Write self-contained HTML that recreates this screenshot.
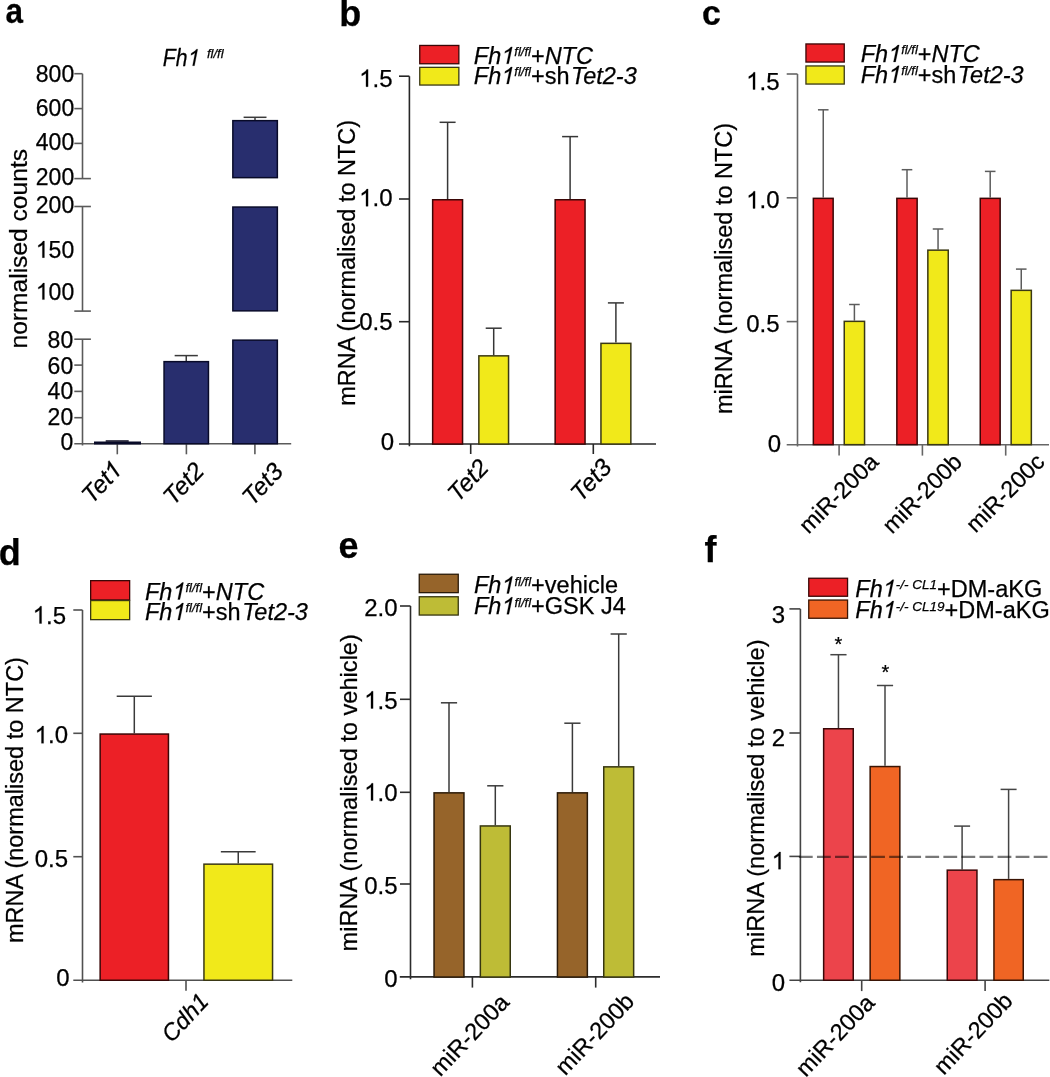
<!DOCTYPE html>
<html><head><meta charset="utf-8"><style>
html,body{margin:0;padding:0;background:#fff;}
svg{display:block;will-change:transform;}
text{font-family:"Liberation Sans", sans-serif;fill:#000;stroke:#000;stroke-width:0.25px;}
</style></head><body>
<svg width="1050" height="1077" viewBox="0 0 1050 1077">
<rect width="1050" height="1077" fill="#fff"/>
<text x="0" y="0" font-size="36" text-anchor="start" font-weight="bold" transform="translate(5.6,22.6) scale(0.875,1)" >a</text>
<text x="0" y="0" font-size="23" text-anchor="start" font-style="italic" transform="translate(162.8,65.7) scale(0.92,1)" >Fh</text>
<path d="M763 0H583V1147Q518 1085 412.5 1023T223 930V1104Q373 1175 485.5 1276T645 1472H763V0Z" fill="#000" stroke="#000" stroke-width="22.26" transform="translate(162.8,65.7) scale(0.92,1) translate(25.84,0) scale(0.01123,-0.01123) skewX(12)"/>
<text x="207" y="57.9" font-size="13" text-anchor="start" font-style="italic" >fl/fl</text>
<line x1="82.5" y1="73.7" x2="82.5" y2="178.6" stroke="#5a5a5a" stroke-width="1.6" />
<line x1="82.5" y1="206.5" x2="82.5" y2="311.1" stroke="#5a5a5a" stroke-width="1.6" />
<line x1="82.5" y1="339.2" x2="82.5" y2="445.5" stroke="#5a5a5a" stroke-width="1.6" />
<line x1="74.3" y1="73.7" x2="82.5" y2="73.7" stroke="#5a5a5a" stroke-width="1.6" />
<line x1="74.3" y1="108.6" x2="82.5" y2="108.6" stroke="#5a5a5a" stroke-width="1.6" />
<line x1="74.3" y1="143.4" x2="82.5" y2="143.4" stroke="#5a5a5a" stroke-width="1.6" />
<line x1="74.3" y1="178.6" x2="90.9" y2="178.6" stroke="#5a5a5a" stroke-width="1.6" />
<line x1="74.3" y1="206.5" x2="90.9" y2="206.5" stroke="#5a5a5a" stroke-width="1.6" />
<line x1="74.3" y1="311.1" x2="90.9" y2="311.1" stroke="#5a5a5a" stroke-width="1.6" />
<line x1="74.3" y1="339.2" x2="90.9" y2="339.2" stroke="#5a5a5a" stroke-width="1.6" />
<line x1="74.3" y1="365.1" x2="82.5" y2="365.1" stroke="#5a5a5a" stroke-width="1.6" />
<line x1="74.3" y1="391.4" x2="82.5" y2="391.4" stroke="#5a5a5a" stroke-width="1.6" />
<line x1="74.3" y1="417.7" x2="82.5" y2="417.7" stroke="#5a5a5a" stroke-width="1.6" />
<line x1="74.3" y1="443.8" x2="291.2" y2="443.8" stroke="#5a5a5a" stroke-width="1.6" />
<line x1="117.3" y1="443.8" x2="117.3" y2="454.3" stroke="#5a5a5a" stroke-width="1.6" />
<line x1="186.4" y1="443.8" x2="186.4" y2="454.3" stroke="#5a5a5a" stroke-width="1.6" />
<line x1="254.9" y1="443.8" x2="254.9" y2="454.3" stroke="#5a5a5a" stroke-width="1.6" />
<text x="74.2" y="81.95" font-size="23" text-anchor="end" >800</text>
<text x="74.2" y="116.05" font-size="23" text-anchor="end" >600</text>
<text x="74.2" y="150.35" font-size="23" text-anchor="end" >400</text>
<text x="74.2" y="184.6" font-size="23" text-anchor="end" >200</text>
<text x="74.2" y="213.05" font-size="23" text-anchor="end" >200</text>
<text x="74.2" y="257.65" font-size="23" text-anchor="end" >50</text>
<path d="M763 0H583V1147Q518 1085 412.5 1023T223 930V1104Q373 1175 485.5 1276T645 1472H763V0Z" fill="#000" stroke="#000" stroke-width="22.26" transform="translate(35.83,257.65) scale(0.01123,-0.01123)"/>
<text x="74.2" y="299.55" font-size="23" text-anchor="end" >00</text>
<path d="M763 0H583V1147Q518 1085 412.5 1023T223 930V1104Q373 1175 485.5 1276T645 1472H763V0Z" fill="#000" stroke="#000" stroke-width="22.26" transform="translate(35.83,299.55) scale(0.01123,-0.01123)"/>
<text x="73.2" y="347.85" font-size="23" text-anchor="end" >80</text>
<text x="73.2" y="373.7" font-size="23" text-anchor="end" >60</text>
<text x="73.2" y="399.05" font-size="23" text-anchor="end" >40</text>
<text x="73.2" y="424.5" font-size="23" text-anchor="end" >20</text>
<text x="73.2" y="450.0" font-size="23" text-anchor="end" >0</text>
<text x="0" y="0" font-size="24.6" text-anchor="middle" transform="translate(27.0,248.75) rotate(-90)" >normalised counts</text>
<rect x="94.75" y="442.25" width="45.50" height="1.50" fill="#282e6e" stroke="#080a28" stroke-width="1.5"/>
<line x1="105.7" y1="441.0" x2="128.7" y2="441.0" stroke="#0a0a20" stroke-width="1.5" />
<line x1="186.25" y1="355.6" x2="186.25" y2="360.9" stroke="#3a3a3a" stroke-width="1.5" />
<line x1="174.65" y1="355.6" x2="197.85" y2="355.6" stroke="#3a3a3a" stroke-width="1.5" />
<rect x="164.05" y="361.65" width="44.40" height="82.10" fill="#282e6e" stroke="#080a28" stroke-width="1.5"/>
<line x1="255" y1="117.3" x2="255" y2="120" stroke="#3a3a3a" stroke-width="1.5" />
<line x1="243.6" y1="117.3" x2="266.5" y2="117.3" stroke="#3a3a3a" stroke-width="1.5" />
<rect x="232.85" y="120.65" width="44.50" height="57.00" fill="#282e6e" stroke="#080a28" stroke-width="1.5"/>
<rect x="232.85" y="207.05" width="44.50" height="103.80" fill="#282e6e" stroke="#080a28" stroke-width="1.5"/>
<rect x="232.85" y="340.15" width="44.50" height="103.60" fill="#282e6e" stroke="#080a28" stroke-width="1.5"/>
<text x="-11.63" y="0" font-size="24.5" text-anchor="end" font-style="italic" transform="translate(122.5,472.0) rotate(-47)" >Tet</text>
<path d="M763 0H583V1147Q518 1085 412.5 1023T223 930V1104Q373 1175 485.5 1276T645 1472H763V0Z" fill="#000" stroke="#000" stroke-width="20.90" transform="translate(122.5,472.0) rotate(-47) translate(-13.63,0) scale(0.01196,-0.01196) skewX(12)"/>
<text x="0" y="0" font-size="24.5" text-anchor="end" font-style="italic" transform="translate(205.5,472.0) rotate(-47)" >Tet2</text>
<text x="0" y="0" font-size="24.5" text-anchor="end" font-style="italic" transform="translate(284.5,472.5) rotate(-47)" >Tet3</text>
<text x="339.2" y="25.5" font-size="36" text-anchor="start" font-weight="bold" >b</text>
<line x1="409.4" y1="76.2" x2="409.4" y2="446.3" stroke="#262626" stroke-width="1.6" />
<line x1="399" y1="76.2" x2="409.4" y2="76.2" stroke="#262626" stroke-width="1.6" />
<line x1="399" y1="199.0" x2="409.4" y2="199.0" stroke="#262626" stroke-width="1.6" />
<line x1="399" y1="321.7" x2="409.4" y2="321.7" stroke="#262626" stroke-width="1.6" />
<line x1="399" y1="444" x2="656" y2="444" stroke="#262626" stroke-width="1.6" />
<line x1="470.7" y1="444" x2="470.7" y2="454" stroke="#262626" stroke-width="1.6" />
<line x1="593.3" y1="444" x2="593.3" y2="454" stroke="#262626" stroke-width="1.6" />
<text x="392.5" y="86.7" font-size="24" text-anchor="end" >.5</text>
<path d="M763 0H583V1147Q518 1085 412.5 1023T223 930V1104Q373 1175 485.5 1276T645 1472H763V0Z" fill="#000" stroke="#000" stroke-width="21.33" transform="translate(359.14,86.7) scale(0.01172,-0.01172)"/>
<text x="392.5" y="206.3" font-size="24" text-anchor="end" >.0</text>
<path d="M763 0H583V1147Q518 1085 412.5 1023T223 930V1104Q373 1175 485.5 1276T645 1472H763V0Z" fill="#000" stroke="#000" stroke-width="21.33" transform="translate(359.14,206.3) scale(0.01172,-0.01172)"/>
<text x="392.5" y="329.5" font-size="24" text-anchor="end" >0.5</text>
<text x="394" y="450" font-size="24" text-anchor="end" >0</text>
<text x="0" y="0" font-size="23.5" text-anchor="middle" transform="translate(354.7,262.85) rotate(-90)" >mRNA (normalised to NTC)</text>
<line x1="447.6" y1="122.3" x2="447.6" y2="199" stroke="#363636" stroke-width="1.5" />
<line x1="439.6" y1="122.3" x2="455.6" y2="122.3" stroke="#363636" stroke-width="1.5" />
<rect x="432.65" y="199.75" width="29.90" height="244.30" fill="#ec2026" stroke="#3a0606" stroke-width="1.5"/>
<line x1="493.70000000000005" y1="328.2" x2="493.70000000000005" y2="355.1" stroke="#363636" stroke-width="1.5" />
<line x1="485.70000000000005" y1="328.2" x2="501.70000000000005" y2="328.2" stroke="#363636" stroke-width="1.5" />
<rect x="478.85" y="355.85" width="29.70" height="88.20" fill="#f1e91a" stroke="#3a3814" stroke-width="1.5"/>
<line x1="570.0999999999999" y1="136.6" x2="570.0999999999999" y2="199" stroke="#363636" stroke-width="1.5" />
<line x1="562.0999999999999" y1="136.6" x2="578.0999999999999" y2="136.6" stroke="#363636" stroke-width="1.5" />
<rect x="555.15" y="199.75" width="29.90" height="244.30" fill="#ec2026" stroke="#3a0606" stroke-width="1.5"/>
<line x1="615.9000000000001" y1="302.9" x2="615.9000000000001" y2="342.6" stroke="#363636" stroke-width="1.5" />
<line x1="607.9000000000001" y1="302.9" x2="623.9000000000001" y2="302.9" stroke="#363636" stroke-width="1.5" />
<rect x="600.95" y="343.35" width="29.90" height="100.70" fill="#f1e91a" stroke="#3a3814" stroke-width="1.5"/>
<rect x="419.75" y="45.45" width="39.10" height="18.30" fill="#ec2026" stroke="#3a0606" stroke-width="1.3"/>
<rect x="419.75" y="67.35" width="39.10" height="17.70" fill="#f1e91a" stroke="#3a3814" stroke-width="1.3"/>
<text x="473.8" y="63.8" font-size="23.5" text-anchor="start" font-style="italic" >Fh</text>
<path d="M763 0H583V1147Q518 1085 412.5 1023T223 930V1104Q373 1175 485.5 1276T645 1472H763V0Z" fill="#000" stroke="#000" stroke-width="21.79" transform="translate(499.92,63.8) scale(0.01147,-0.01147) skewX(12)"/>
<text x="514.29" y="63.8" font-size="23.5" text-anchor="start" ><tspan font-style="italic" font-size="13" dy="-7.7">fl/fl</tspan><tspan dy="7.7">+<tspan font-style="italic">NTC</tspan></tspan></text>
<text x="473.8" y="83.9" font-size="23.5" text-anchor="start" font-style="italic" >Fh</text>
<path d="M763 0H583V1147Q518 1085 412.5 1023T223 930V1104Q373 1175 485.5 1276T645 1472H763V0Z" fill="#000" stroke="#000" stroke-width="21.79" transform="translate(499.92,83.9) scale(0.01147,-0.01147) skewX(12)"/>
<text x="514.29" y="83.9" font-size="23.5" text-anchor="start" ><tspan font-style="italic" font-size="13" dy="-7.7">fl/fl</tspan><tspan dy="7.7">+sh<tspan font-style="italic" dx="1.5">Tet2-3</tspan></tspan></text>
<text x="0" y="0" font-size="24.5" text-anchor="end" font-style="italic" transform="translate(490,468.8) rotate(-47)" >Tet2</text>
<text x="0" y="0" font-size="24.5" text-anchor="end" font-style="italic" transform="translate(613,468.5) rotate(-47)" >Tet3</text>
<text x="0" y="0" font-size="36" text-anchor="start" font-weight="bold" transform="translate(702,24.8) scale(0.94,1)" >c</text>
<line x1="797.5" y1="74.0" x2="797.5" y2="446.5" stroke="#666666" stroke-width="1.6" />
<line x1="786.7" y1="74.0" x2="797.5" y2="74.0" stroke="#666666" stroke-width="1.6" />
<line x1="786.7" y1="197.8" x2="797.5" y2="197.8" stroke="#666666" stroke-width="1.6" />
<line x1="786.7" y1="321.6" x2="797.5" y2="321.6" stroke="#666666" stroke-width="1.6" />
<line x1="786.7" y1="444.8" x2="1049" y2="444.8" stroke="#666666" stroke-width="1.6" />
<line x1="839.1" y1="444.8" x2="839.1" y2="455.6" stroke="#666666" stroke-width="1.6" />
<line x1="922.4" y1="444.8" x2="922.4" y2="455.6" stroke="#666666" stroke-width="1.6" />
<line x1="1005.7" y1="444.8" x2="1005.7" y2="455.6" stroke="#666666" stroke-width="1.6" />
<text x="779.5" y="89.5" font-size="24" text-anchor="end" >.5</text>
<path d="M763 0H583V1147Q518 1085 412.5 1023T223 930V1104Q373 1175 485.5 1276T645 1472H763V0Z" fill="#000" stroke="#000" stroke-width="21.33" transform="translate(746.14,89.5) scale(0.01172,-0.01172)"/>
<text x="779.5" y="208.4" font-size="24" text-anchor="end" >.0</text>
<path d="M763 0H583V1147Q518 1085 412.5 1023T223 930V1104Q373 1175 485.5 1276T645 1472H763V0Z" fill="#000" stroke="#000" stroke-width="21.33" transform="translate(746.14,208.4) scale(0.01172,-0.01172)"/>
<text x="779.5" y="332" font-size="24" text-anchor="end" >0.5</text>
<text x="781" y="452" font-size="24" text-anchor="end" >0</text>
<text x="0" y="0" font-size="23.5" text-anchor="middle" transform="translate(731.9,268.45) rotate(-90)" >miRNA (normalised to NTC)</text>
<line x1="823.25" y1="109.8" x2="823.25" y2="197.6" stroke="#5c5c5c" stroke-width="1.5" />
<line x1="817.95" y1="109.8" x2="828.55" y2="109.8" stroke="#5c5c5c" stroke-width="1.5" />
<rect x="813.35" y="198.35" width="19.80" height="246.30" fill="#ec2026" stroke="#3a0606" stroke-width="1.5"/>
<line x1="854.4" y1="304.5" x2="854.4" y2="320.6" stroke="#5c5c5c" stroke-width="1.5" />
<line x1="849.1" y1="304.5" x2="859.6999999999999" y2="304.5" stroke="#5c5c5c" stroke-width="1.5" />
<rect x="844.25" y="321.35" width="20.30" height="123.30" fill="#f1e91a" stroke="#3a3814" stroke-width="1.5"/>
<line x1="907.0" y1="169.7" x2="907.0" y2="197.6" stroke="#5c5c5c" stroke-width="1.5" />
<line x1="901.7" y1="169.7" x2="912.3" y2="169.7" stroke="#5c5c5c" stroke-width="1.5" />
<rect x="896.85" y="198.35" width="20.30" height="246.30" fill="#ec2026" stroke="#3a0606" stroke-width="1.5"/>
<line x1="938.05" y1="229" x2="938.05" y2="249.4" stroke="#5c5c5c" stroke-width="1.5" />
<line x1="932.75" y1="229" x2="943.3499999999999" y2="229" stroke="#5c5c5c" stroke-width="1.5" />
<rect x="927.85" y="250.15" width="20.40" height="194.50" fill="#f1e91a" stroke="#3a3814" stroke-width="1.5"/>
<line x1="990.2" y1="171.4" x2="990.2" y2="197.6" stroke="#5c5c5c" stroke-width="1.5" />
<line x1="984.9000000000001" y1="171.4" x2="995.5" y2="171.4" stroke="#5c5c5c" stroke-width="1.5" />
<rect x="980.25" y="198.35" width="19.90" height="246.30" fill="#ec2026" stroke="#3a0606" stroke-width="1.5"/>
<line x1="1021.25" y1="269.1" x2="1021.25" y2="289.6" stroke="#5c5c5c" stroke-width="1.5" />
<line x1="1015.95" y1="269.1" x2="1026.55" y2="269.1" stroke="#5c5c5c" stroke-width="1.5" />
<rect x="1011.15" y="290.35" width="20.20" height="154.30" fill="#f1e91a" stroke="#3a3814" stroke-width="1.5"/>
<rect x="805.95" y="43.95" width="38.30" height="18.10" fill="#ec2026" stroke="#3a0606" stroke-width="1.3"/>
<rect x="805.95" y="65.95" width="38.30" height="18.10" fill="#f1e91a" stroke="#3a3814" stroke-width="1.3"/>
<text x="860.7" y="61.9" font-size="23.5" text-anchor="start" font-style="italic" >Fh</text>
<path d="M763 0H583V1147Q518 1085 412.5 1023T223 930V1104Q373 1175 485.5 1276T645 1472H763V0Z" fill="#000" stroke="#000" stroke-width="21.79" transform="translate(886.82,61.9) scale(0.01147,-0.01147) skewX(12)"/>
<text x="901.19" y="61.9" font-size="23.5" text-anchor="start" ><tspan font-style="italic" font-size="13" dy="-7.7">fl/fl</tspan><tspan dy="7.7">+<tspan font-style="italic">NTC</tspan></tspan></text>
<text x="860.7" y="82.7" font-size="23.5" text-anchor="start" font-style="italic" >Fh</text>
<path d="M763 0H583V1147Q518 1085 412.5 1023T223 930V1104Q373 1175 485.5 1276T645 1472H763V0Z" fill="#000" stroke="#000" stroke-width="21.79" transform="translate(886.82,82.7) scale(0.01147,-0.01147) skewX(12)"/>
<text x="901.19" y="82.7" font-size="23.5" text-anchor="start" ><tspan font-style="italic" font-size="13" dy="-7.7">fl/fl</tspan><tspan dy="7.7">+sh<tspan font-style="italic" dx="1.5">Tet2-3</tspan></tspan></text>
<text x="0" y="0" font-size="23.3" text-anchor="end" transform="translate(880,463.3) rotate(-45)" >miR-200a</text>
<text x="0" y="0" font-size="23.3" text-anchor="end" transform="translate(963.5,463.3) rotate(-45)" >miR-200b</text>
<text x="0" y="0" font-size="23.3" text-anchor="end" transform="translate(1046,463.3) rotate(-45)" >miR-200c</text>
<text x="-1.2" y="565" font-size="36" text-anchor="start" font-weight="bold" >d</text>
<line x1="82.5" y1="610" x2="82.5" y2="982.6" stroke="#505050" stroke-width="1.6" />
<line x1="73.3" y1="610" x2="82.5" y2="610" stroke="#505050" stroke-width="1.6" />
<line x1="73.3" y1="733.3" x2="82.5" y2="733.3" stroke="#505050" stroke-width="1.6" />
<line x1="73.3" y1="856.7" x2="82.5" y2="856.7" stroke="#505050" stroke-width="1.6" />
<line x1="73.3" y1="980.3" x2="292.3" y2="980.3" stroke="#505050" stroke-width="1.6" />
<line x1="186" y1="980.3" x2="186" y2="990.7" stroke="#505050" stroke-width="1.6" />
<text x="66" y="623.5" font-size="24" text-anchor="end" >.5</text>
<path d="M763 0H583V1147Q518 1085 412.5 1023T223 930V1104Q373 1175 485.5 1276T645 1472H763V0Z" fill="#000" stroke="#000" stroke-width="21.33" transform="translate(32.64,623.5) scale(0.01172,-0.01172)"/>
<text x="68" y="743.3" font-size="24" text-anchor="end" >.0</text>
<path d="M763 0H583V1147Q518 1085 412.5 1023T223 930V1104Q373 1175 485.5 1276T645 1472H763V0Z" fill="#000" stroke="#000" stroke-width="21.33" transform="translate(34.64,743.3) scale(0.01172,-0.01172)"/>
<text x="68" y="866.7" font-size="24" text-anchor="end" >0.5</text>
<text x="69.5" y="985.5" font-size="24" text-anchor="end" >0</text>
<text x="0" y="0" font-size="23.5" text-anchor="middle" transform="translate(22.9,800.05) rotate(-90)" >mRNA (normalised to NTC)</text>
<line x1="134.3" y1="696.2" x2="134.3" y2="733.3" stroke="#3a3a3a" stroke-width="1.5" />
<line x1="116.70000000000002" y1="696.2" x2="151.9" y2="696.2" stroke="#3a3a3a" stroke-width="1.5" />
<rect x="100.15" y="734.05" width="68.30" height="246.20" fill="#ec2026" stroke="#3a0606" stroke-width="1.5"/>
<line x1="238.25" y1="851.8" x2="238.25" y2="863.4" stroke="#3a3a3a" stroke-width="1.5" />
<line x1="220.85" y1="851.8" x2="255.65" y2="851.8" stroke="#3a3a3a" stroke-width="1.5" />
<rect x="203.95" y="864.15" width="68.60" height="116.10" fill="#f1e91a" stroke="#3a3814" stroke-width="1.5"/>
<rect x="90.65" y="580.65" width="39.00" height="19.30" fill="#ec2026" stroke="#3a0606" stroke-width="1.3"/>
<rect x="90.65" y="600.55" width="39.00" height="19.10" fill="#f1e91a" stroke="#3a3814" stroke-width="1.3"/>
<text x="145" y="599.5" font-size="23.5" text-anchor="start" font-style="italic" >Fh</text>
<path d="M763 0H583V1147Q518 1085 412.5 1023T223 930V1104Q373 1175 485.5 1276T645 1472H763V0Z" fill="#000" stroke="#000" stroke-width="21.79" transform="translate(171.12,599.5) scale(0.01147,-0.01147) skewX(12)"/>
<text x="185.49" y="599.5" font-size="23.5" text-anchor="start" ><tspan font-style="italic" font-size="13" dy="-7.7">fl/fl</tspan><tspan dy="7.7">+<tspan font-style="italic">NTC</tspan></tspan></text>
<text x="145" y="620" font-size="23.5" text-anchor="start" font-style="italic" >Fh</text>
<path d="M763 0H583V1147Q518 1085 412.5 1023T223 930V1104Q373 1175 485.5 1276T645 1472H763V0Z" fill="#000" stroke="#000" stroke-width="21.79" transform="translate(171.12,620) scale(0.01147,-0.01147) skewX(12)"/>
<text x="185.49" y="620" font-size="23.5" text-anchor="start" ><tspan font-style="italic" font-size="13" dy="-7.7">fl/fl</tspan><tspan dy="7.7">+sh<tspan font-style="italic" dx="1.5">Tet2-3</tspan></tspan></text>
<text x="0" y="0" font-size="23.5" text-anchor="end" font-style="italic" transform="translate(210,1002.5) rotate(-47)" >Cdh1</text>
<text x="338.5" y="558.3" font-size="36" text-anchor="start" font-weight="bold" >e</text>
<line x1="410.5" y1="606" x2="410.5" y2="979.3" stroke="#2c2c2c" stroke-width="1.6" />
<line x1="400" y1="606" x2="410.5" y2="606" stroke="#2c2c2c" stroke-width="1.6" />
<line x1="400" y1="699.3" x2="410.5" y2="699.3" stroke="#2c2c2c" stroke-width="1.6" />
<line x1="400" y1="792.3" x2="410.5" y2="792.3" stroke="#2c2c2c" stroke-width="1.6" />
<line x1="400" y1="884" x2="410.5" y2="884" stroke="#2c2c2c" stroke-width="1.6" />
<line x1="399.8" y1="976.9" x2="660" y2="976.9" stroke="#2c2c2c" stroke-width="1.6" />
<line x1="472.4" y1="976.9" x2="472.4" y2="987.6" stroke="#2c2c2c" stroke-width="1.6" />
<line x1="595.7" y1="976.9" x2="595.7" y2="987.6" stroke="#2c2c2c" stroke-width="1.6" />
<text x="397.5" y="615.8" font-size="24" text-anchor="end" >2.0</text>
<text x="397.5" y="708.5" font-size="24" text-anchor="end" >.5</text>
<path d="M763 0H583V1147Q518 1085 412.5 1023T223 930V1104Q373 1175 485.5 1276T645 1472H763V0Z" fill="#000" stroke="#000" stroke-width="21.33" transform="translate(364.14,708.5) scale(0.01172,-0.01172)"/>
<text x="397.5" y="800.5" font-size="24" text-anchor="end" >.0</text>
<path d="M763 0H583V1147Q518 1085 412.5 1023T223 930V1104Q373 1175 485.5 1276T645 1472H763V0Z" fill="#000" stroke="#000" stroke-width="21.33" transform="translate(364.14,800.5) scale(0.01172,-0.01172)"/>
<text x="397.5" y="893.7" font-size="24" text-anchor="end" >0.5</text>
<text x="397.5" y="986.5" font-size="24" text-anchor="end" >0</text>
<text x="0" y="0" font-size="23.6" text-anchor="middle" transform="translate(357.1,792.8) rotate(-90)" >miRNA (normalised to vehicle)</text>
<line x1="449.0" y1="702.8" x2="449.0" y2="792.1" stroke="#3a3a3a" stroke-width="1.5" />
<line x1="440.9" y1="702.8" x2="457.1" y2="702.8" stroke="#3a3a3a" stroke-width="1.5" />
<rect x="434.05" y="792.85" width="29.90" height="184.20" fill="#96642a" stroke="#2a1a08" stroke-width="1.5"/>
<line x1="495.3" y1="785.8" x2="495.3" y2="825.2" stroke="#3a3a3a" stroke-width="1.5" />
<line x1="487.2" y1="785.8" x2="503.40000000000003" y2="785.8" stroke="#3a3a3a" stroke-width="1.5" />
<rect x="480.35" y="825.95" width="29.90" height="151.10" fill="#bebc36" stroke="#363610" stroke-width="1.5"/>
<line x1="572.4000000000001" y1="723.2" x2="572.4000000000001" y2="792.1" stroke="#3a3a3a" stroke-width="1.5" />
<line x1="564.3000000000001" y1="723.2" x2="580.5000000000001" y2="723.2" stroke="#3a3a3a" stroke-width="1.5" />
<rect x="557.45" y="792.85" width="29.90" height="184.20" fill="#96642a" stroke="#2a1a08" stroke-width="1.5"/>
<line x1="618.7" y1="634" x2="618.7" y2="766.1" stroke="#3a3a3a" stroke-width="1.5" />
<line x1="610.6" y1="634" x2="626.8000000000001" y2="634" stroke="#3a3a3a" stroke-width="1.5" />
<rect x="603.75" y="766.85" width="29.90" height="210.20" fill="#bebc36" stroke="#363610" stroke-width="1.5"/>
<rect x="419.25" y="574.25" width="39.00" height="18.40" fill="#96642a" stroke="#2a1a08" stroke-width="1.3"/>
<rect x="419.25" y="596.75" width="39.00" height="18.30" fill="#bebc36" stroke="#363610" stroke-width="1.3"/>
<text x="474" y="593.4" font-size="23.5" text-anchor="start" font-style="italic" >Fh</text>
<path d="M763 0H583V1147Q518 1085 412.5 1023T223 930V1104Q373 1175 485.5 1276T645 1472H763V0Z" fill="#000" stroke="#000" stroke-width="21.79" transform="translate(500.12,593.4) scale(0.01147,-0.01147) skewX(12)"/>
<text x="514.49" y="593.4" font-size="23.5" text-anchor="start" ><tspan font-style="italic" font-size="13" dy="-7.7">fl/fl</tspan><tspan dy="7.7">+vehicle</tspan></text>
<text x="474" y="614.2" font-size="23.5" text-anchor="start" font-style="italic" >Fh</text>
<path d="M763 0H583V1147Q518 1085 412.5 1023T223 930V1104Q373 1175 485.5 1276T645 1472H763V0Z" fill="#000" stroke="#000" stroke-width="21.79" transform="translate(500.12,614.2) scale(0.01147,-0.01147) skewX(12)"/>
<text x="514.49" y="614.2" font-size="23.5" text-anchor="start" ><tspan font-style="italic" font-size="13" dy="-7.7">fl/fl</tspan><tspan dy="7.7">+GSK J4</tspan></text>
<text x="0" y="0" font-size="23.5" text-anchor="end" transform="translate(510.5,1003.5) rotate(-46.5)" >miR-200a</text>
<text x="0" y="0" font-size="23.5" text-anchor="end" transform="translate(635.5,1002.5) rotate(-46.5)" >miR-200b</text>
<text x="704.5" y="561.5" font-size="36" text-anchor="start" font-weight="bold" >f</text>
<line x1="800.4" y1="608.9" x2="800.4" y2="982.2" stroke="#444444" stroke-width="1.6" />
<line x1="789.4" y1="608.9" x2="800.4" y2="608.9" stroke="#444444" stroke-width="1.6" />
<line x1="789.4" y1="733" x2="800.4" y2="733" stroke="#444444" stroke-width="1.6" />
<line x1="789.4" y1="856.4" x2="800.4" y2="856.4" stroke="#444444" stroke-width="1.6" />
<line x1="789.4" y1="980.2" x2="1049.3" y2="980.2" stroke="#444444" stroke-width="1.6" />
<line x1="861.7" y1="980.2" x2="861.7" y2="991.1" stroke="#444444" stroke-width="1.6" />
<line x1="985.1" y1="980.2" x2="985.1" y2="991.1" stroke="#444444" stroke-width="1.6" />
<text x="785" y="622.8" font-size="24" text-anchor="end" >3</text>
<text x="785" y="746" font-size="24" text-anchor="end" >2</text>
<path d="M763 0H583V1147Q518 1085 412.5 1023T223 930V1104Q373 1175 485.5 1276T645 1472H763V0Z" fill="#000" stroke="#000" stroke-width="21.33" transform="translate(771.65,869.2) scale(0.01172,-0.01172)"/>
<text x="785" y="990.5" font-size="24" text-anchor="end" >0</text>
<text x="0" y="0" font-size="23.6" text-anchor="middle" transform="translate(763.8,798.1) rotate(-90)" >miRNA (normalised to vehicle)</text>
<line x1="838.45" y1="654.7" x2="838.45" y2="728.0" stroke="#444444" stroke-width="1.5" />
<line x1="830.35" y1="654.7" x2="846.5500000000001" y2="654.7" stroke="#444444" stroke-width="1.5" />
<rect x="823.65" y="728.75" width="29.60" height="251.50" fill="#ec444b" stroke="#3a0808" stroke-width="1.5"/>
<line x1="885.0" y1="685.5" x2="885.0" y2="765.8" stroke="#444444" stroke-width="1.5" />
<line x1="876.9" y1="685.5" x2="893.1" y2="685.5" stroke="#444444" stroke-width="1.5" />
<rect x="870.15" y="766.55" width="29.70" height="213.70" fill="#f06524" stroke="#3a1404" stroke-width="1.5"/>
<line x1="962.1" y1="826.1" x2="962.1" y2="869.4" stroke="#444444" stroke-width="1.5" />
<line x1="954.1" y1="826.1" x2="970.1" y2="826.1" stroke="#444444" stroke-width="1.5" />
<rect x="947.25" y="870.15" width="29.70" height="110.10" fill="#ec444b" stroke="#3a0808" stroke-width="1.5"/>
<line x1="1008.6" y1="789.4" x2="1008.6" y2="878.9" stroke="#444444" stroke-width="1.5" />
<line x1="1000.6" y1="789.4" x2="1016.6" y2="789.4" stroke="#444444" stroke-width="1.5" />
<rect x="993.95" y="879.65" width="29.30" height="100.60" fill="#f06524" stroke="#3a1404" stroke-width="1.5"/>
<line x1="798.9" y1="856.9" x2="1050" y2="856.9" stroke="#000" stroke-width="2.1" stroke-opacity="0.53" stroke-dasharray="13.8 4.26"/>
<text x="838.5" y="651" font-size="20" text-anchor="middle" >*</text>
<text x="885.4" y="678.5" font-size="20" text-anchor="middle" >*</text>
<rect x="808.75" y="578.25" width="38.80" height="18.00" fill="#ec2026" stroke="#3a0606" stroke-width="1.3"/>
<rect x="808.75" y="600.05" width="38.80" height="18.20" fill="#f06524" stroke="#3a1404" stroke-width="1.3"/>
<text x="855.3" y="596.6" font-size="23.5" text-anchor="start" font-style="italic" >Fh</text>
<path d="M763 0H583V1147Q518 1085 412.5 1023T223 930V1104Q373 1175 485.5 1276T645 1472H763V0Z" fill="#000" stroke="#000" stroke-width="21.79" transform="translate(881.42,596.6) scale(0.01147,-0.01147) skewX(12)"/>
<text x="895.79" y="596.6" font-size="23.5" text-anchor="start" ><tspan font-style="italic" font-size="13.5" dy="-7.3">-/- CL1</tspan><tspan dy="7.3">+DM-aKG</tspan></text>
<text x="855.3" y="618" font-size="23.5" text-anchor="start" font-style="italic" >Fh</text>
<path d="M763 0H583V1147Q518 1085 412.5 1023T223 930V1104Q373 1175 485.5 1276T645 1472H763V0Z" fill="#000" stroke="#000" stroke-width="21.79" transform="translate(881.42,618) scale(0.01147,-0.01147) skewX(12)"/>
<text x="895.79" y="618" font-size="23.5" text-anchor="start" ><tspan font-style="italic" font-size="13.5" dy="-7.3">-/- CL19</tspan><tspan dy="7.3">+DM-aKG</tspan></text>
<text x="0" y="0" font-size="23.5" text-anchor="end" transform="translate(876,1004) rotate(-46.5)" >miR-200a</text>
<text x="0" y="0" font-size="23.5" text-anchor="end" transform="translate(1014,1002) rotate(-46.5)" >miR-200b</text>
</svg></body></html>
